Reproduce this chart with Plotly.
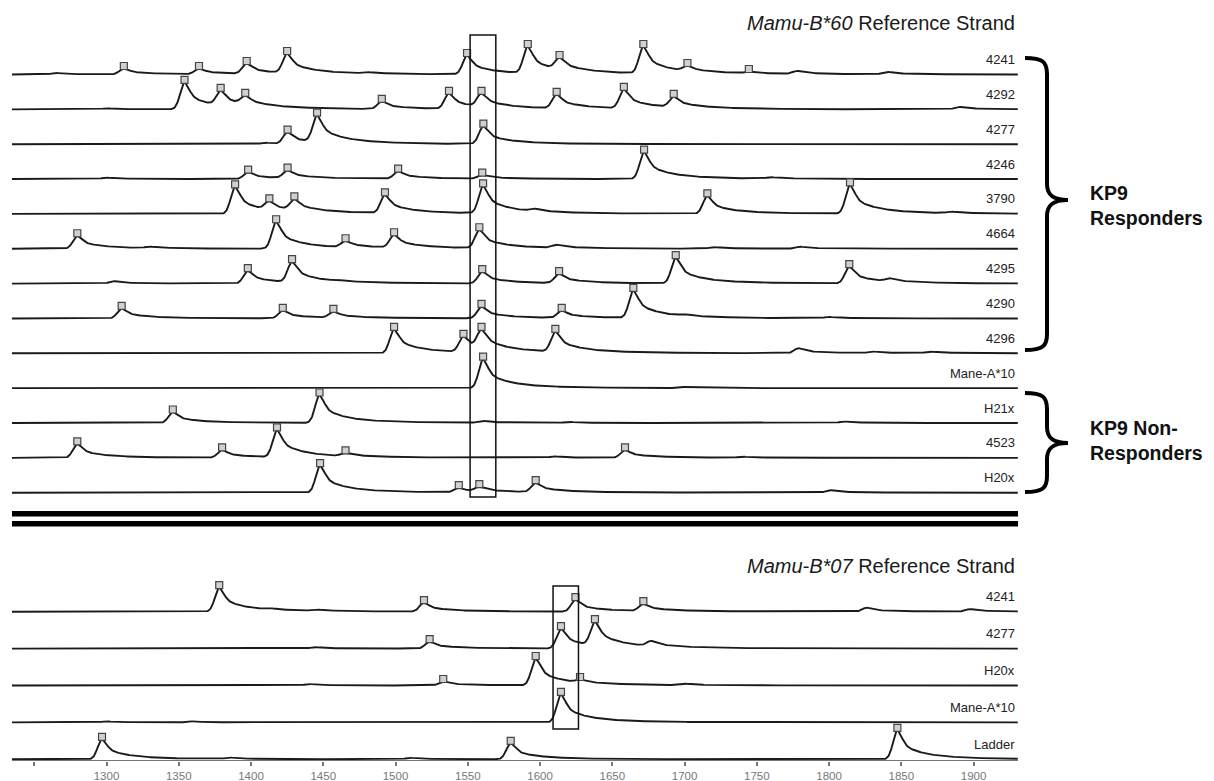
import numpy as np
import plotly.graph_objects as go

# ---------------- data ----------------
top_samples = ["4241", "4292", "4277", "4246", "3790", "4664", "4295", "4290",
               "4296", "Mane-A*10", "H21x", "4523", "H20x"]
# called peak positions (bp) and apparent peak heights above baseline
top_peak_bp = [
    [1312, 1364, 1397, 1425, 1549.5, 1591.5, 1613.5, 1671.5, 1702, 1744.5],
    [1354, 1379, 1396, 1490.5, 1537, 1559.5, 1611.5, 1658, 1692.5],
    [1425.3, 1445.7, 1560.8],
    [1398, 1425.3, 1501.8, 1560, 1672],
    [1389, 1412.7, 1430, 1492.7, 1560.6, 1715.8, 1814.5],
    [1279.8, 1417.4, 1465.4, 1499, 1558],
    [1397.8, 1428.4, 1560, 1613.2, 1693.9, 1814],
    [1310.5, 1422, 1457, 1559.5, 1615, 1664.6],
    [1499, 1547, 1559.5, 1610.6],
    [1560.6],
    [1345.9, 1447.4],
    [1279.8, 1380, 1418, 1465.4, 1658.8],
    [1447.8, 1543.8, 1558, 1597],
]
top_peak_h = [
    [6, 6, 11, 21, 19, 28, 17, 28, 9, 3],
    [27, 19, 14, 8, 16, 16, 15, 20, 13],
    [12, 29, 18],
    [7, 9, 8, 4, 27],
    [27, 13, 15, 19, 28, 18, 29],
    [13, 27, 8, 14, 19],
    [13, 22, 12, 10, 26, 17],
    [10, 8, 7, 12, 8, 28],
    [24, 17, 24, 22],
    [29],
    [11, 28],
    [14, 8, 28, 5, 8],
    [27, 5, 6, 10],
]
# small unlabelled bumps of the baseline
top_bump_bp = [
    [1265, 1480, 1778, 1840],
    [1300, 1890],
    [1410],
    [1300, 1760],
    [1596, 1885],
    [1330, 1611.5, 1720, 1780],
    [1305, 1460, 1842],
    [1700, 1800],
    [1778.8, 1830, 1870],
    [1700],
    [1560, 1620, 1810],
    [1610, 1740],
    [1800.7],
]
top_bump_h = [
    [1.5, 1.5, 3, 2.5],
    [1, 2.5],
    [1.5],
    [1.5, 1.5],
    [2.5, 1.5],
    [1.5, 3, 1.5, 2],
    [2.5, 1, 3],
    [1.5, 1.5],
    [5, 1.5, 1.5],
    [1],
    [2, 1, 1.5],
    [1.5, 1],
    [2.5],
]

bottom_samples = ["4241", "4277", "H20x", "Mane-A*10", "Ladder"]
bottom_peak_bp = [
    [1378, 1519.7, 1624.5, 1671.5],
    [1523.6, 1614.5, 1638],
    [1533, 1597, 1627.7],
    [1614.5],
    [1296.9, 1579.7, 1847.3],
]
bottom_peak_h = [
    [24, 9, 12, 8],
    [7, 20, 27],
    [4, 27, 6],
    [28],
    [20, 16, 29],
]
bottom_bump_bp = [
    [1412, 1445, 1826, 1897.6],
    [1444, 1677],
    [1440, 1700],
    [1300, 1360],
    [1385, 1510],
]
bottom_bump_h = [
    [1.5, 1.5, 4, 2.5],
    [1.5, 5],
    [1.5, 1.5],
    [1, 1],
    [1.5, 1.5],
]

tick_values = list(range(1250, 1901, 50))
tick_labels = ["" if v == 1250 else str(v) for v in tick_values]

# ---------------- layout geometry ----------------
W, H = 1214, 781
PLOT_H = 761                       # plot area height (bottom margin 20)
PX_PER_BP = 1.4451
X0 = 1300 - 106.5 / PX_PER_BP      # data value at the left figure edge
X1 = X0 + W / PX_PER_BP


def X(px):
    return X0 + px / PX_PER_BP


def Y(py):
    return PLOT_H - py


x_start, x_end = X(12), X(1018)
xs = np.arange(x_start, x_end, 0.4)


def unit_peak(x, c):
    d = np.asarray(x, dtype=float) - c
    dp = np.maximum(d, 0)
    left = np.exp(-(np.minimum(d, 0) / 4.2) ** 2)
    right = (0.35 * np.exp(-(dp / 4.5) ** 2) + 0.45 * np.exp(-dp / 12)
             + 0.2 * np.exp(-dp / 35))
    return np.where(d < 0, left, right)


def amplitudes(bps, heights, bbps, bhs):
    """Turn apparent heights into peak amplitudes (remove overlapping tails)."""
    amps = []
    for j, (c, h) in enumerate(zip(bps, heights)):
        other = sum(a * float(unit_peak(c, cc)) for a, cc in zip(amps, bps[:j]))
        other += sum(b * float(unit_peak(c, bc)) for b, bc in zip(bhs, bbps))
        amps.append(max(h - other, 1.0))
    return amps


def signal(x, bps, amps, bbps, bhs):
    s = np.zeros_like(np.asarray(x, dtype=float))
    for c, a in zip(list(bps) + list(bbps), list(amps) + list(bhs)):
        s = s + a * unit_peak(x, c)
    return s


fig = go.Figure()
LINE = "#1a1a1a"
FONT = "Liberation Sans, Arial, Helvetica, sans-serif"


def add_panel(samples, pbp, ph, bbp, bh, base0, step):
    for i, name in enumerate(samples):
        base = Y(base0 + i * step)
        amps = amplitudes(pbp[i], ph[i], bbp[i], bh[i])
        ys = base + signal(xs, pbp[i], amps, bbp[i], bh[i])
        fig.add_trace(go.Scatter(x=xs, y=ys, mode="lines",
                                 line=dict(color=LINE, width=1.9),
                                 hoverinfo="skip", showlegend=False))
        mx = np.array(pbp[i], dtype=float)
        my = base + signal(mx, pbp[i], amps, bbp[i], bh[i]) + 2.5
        fig.add_trace(go.Scatter(x=mx, y=my, mode="markers",
                                 marker=dict(symbol="square", size=7, color="#d0d0d0",
                                             line=dict(color="#444", width=1.2)),
                                 hoverinfo="skip", showlegend=False))
        fig.add_annotation(x=X(1017), y=base + 15, text=name, showarrow=False,
                           xanchor="right", yanchor="middle",
                           font=dict(family=FONT, size=13, color="#222"))


add_panel(top_samples, top_peak_bp, top_peak_h, top_bump_bp, top_bump_h, 74.5, 34.85)
add_panel(bottom_samples, bottom_peak_bp, bottom_peak_h, bottom_bump_bp, bottom_bump_h, 611.7, 36.9)

shapes = []
# highlight boxes
shapes.append(dict(type="rect", xref="x", yref="y", x0=1551.6, x1=1569.4,
                   y0=Y(497), y1=Y(35), line=dict(color="#111", width=1.5)))
shapes.append(dict(type="rect", xref="x", yref="y", x0=1609, x1=1626.6,
                   y0=Y(729), y1=Y(586), line=dict(color="#111", width=1.5)))
# double separator lines
for py in (513.7, 523.8):
    shapes.append(dict(type="line", xref="x", yref="y", x0=x_start, x1=x_end,
                       y0=Y(py), y1=Y(py), line=dict(color="black", width=5.5)))
# axis line
shapes.append(dict(type="line", xref="x", yref="y", x0=x_start, x1=x_end,
                   y0=Y(761), y1=Y(761), line=dict(color="#777", width=2)))


def brace(top, bottom, tip_y, xl=1025, xv=1047, xt=1068):
    r = 16
    p = (f"M {X(xl)},{Y(top)} "
         f"C {X(xv - 4)},{Y(top)} {X(xv)},{Y(top + 4)} {X(xv)},{Y(top + r)} "
         f"L {X(xv)},{Y(tip_y - r)} "
         f"C {X(xv)},{Y(tip_y - 5)} {X(xv + 6)},{Y(tip_y)} {X(xt)},{Y(tip_y)} "
         f"C {X(xv + 6)},{Y(tip_y)} {X(xv)},{Y(tip_y + 5)} {X(xv)},{Y(tip_y + r)} "
         f"L {X(xv)},{Y(bottom - r)} "
         f"C {X(xv)},{Y(bottom - 4)} {X(xv - 4)},{Y(bottom)} {X(xl)},{Y(bottom)}")
    return dict(type="path", xref="x", yref="y", path=p,
                line=dict(color="black", width=4))


shapes.append(brace(58, 350, 200))
shapes.append(brace(393, 492, 443))

fig.update_layout(shapes=shapes)

# headers
for py, allele in ((23, "Mamu-B*60"), (566, "Mamu-B*07")):
    fig.add_annotation(x=X(1017), y=Y(py), text=f"<i>{allele}</i> Reference Strand",
                       showarrow=False, xanchor="right", yanchor="middle",
                       font=dict(family=FONT, size=20, color="#1a1a1a"))
# group labels
fig.add_annotation(x=X(1088), y=Y(205), text="<b>KP9<br>Responders</b>",
                   showarrow=False, xanchor="left", yanchor="middle", align="left",
                   font=dict(family=FONT, size=19.5, color="#111"))
fig.add_annotation(x=X(1088), y=Y(440), text="<b>KP9 Non-<br>Responders</b>",
                   showarrow=False, xanchor="left", yanchor="middle", align="left",
                   font=dict(family=FONT, size=19.5, color="#111"))

fig.update_layout(
    width=W, height=H,
    margin=dict(l=0, r=0, t=0, b=H - PLOT_H),
    paper_bgcolor="white", plot_bgcolor="white",
    xaxis=dict(range=[X0, X1], showgrid=False, zeroline=False, showline=False,
               tickmode="array", tickvals=tick_values, ticktext=tick_labels,
               ticks="outside", ticklen=4, tickwidth=1.5, tickcolor="#777",
               tickfont=dict(family=FONT, size=11.5, color="#777"),
               fixedrange=True),
    yaxis=dict(range=[0, PLOT_H], visible=False, fixedrange=True),
    showlegend=False,
)

fig.write_html("out.html", config={"displayModeBar": False},
               post_script="document.body.style.margin='0px';document.body.style.padding='0px';")
